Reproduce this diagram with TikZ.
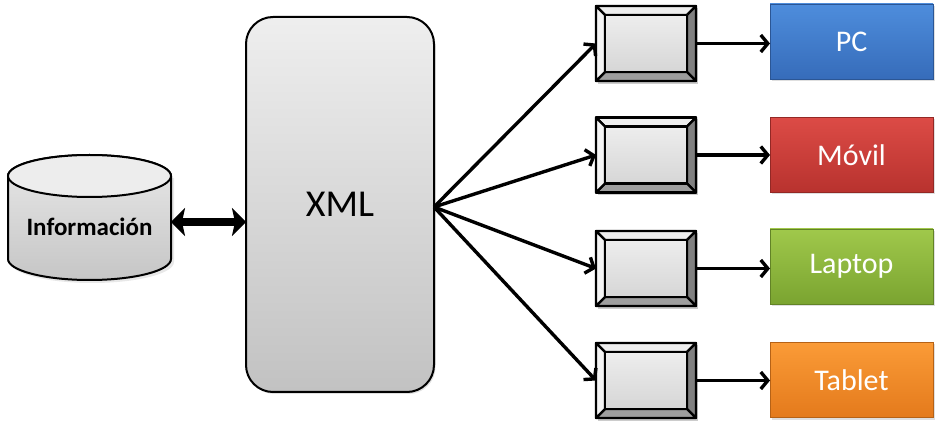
\documentclass[tikz,border=0pt]{standalone}
\usepackage{fontspec}
\setmainfont{Carlito}
\usetikzlibrary{arrows.meta,calc,shadows}
\definecolor{pcA}{RGB}{78,141,220}
\definecolor{pcB}{RGB}{54,108,186}
\definecolor{mvA}{RGB}{220,75,70}
\definecolor{mvB}{RGB}{184,50,46}
\definecolor{lpA}{RGB}{160,200,75}
\definecolor{lpB}{RGB}{122,164,48}
\definecolor{tbA}{RGB}{250,155,55}
\definecolor{tbB}{RGB}{228,122,28}
\definecolor{bevTop}{RGB}{238,238,238}
\definecolor{bevLeft}{RGB}{244,244,244}
\definecolor{bevRight}{RGB}{128,128,128}
\definecolor{bevBot}{RGB}{158,158,158}
\tikzset{
  fanarrow/.style={line width=3.4pt, -{Straight Barb[length=7pt,width=17pt]}},
  bevelbox/.style={minimum width=100pt, minimum height=75pt, inner sep=0pt, outer sep=0pt},
  target/.style n args={2}{minimum width=163pt, minimum height=75pt, inner sep=0pt, outer sep=0pt,
    top color=#1, bottom color=#2, draw=#2!80!black, line width=0.4pt, text=white,
    font=\fontsize{30}{32}\selectfont,
    drop shadow={opacity=0.25, shadow xshift=1.5pt, shadow yshift=-2pt}},
  bevfill/.style={draw=black, line width=2.2pt, line join=round},
}
\begin{document}
\begin{tikzpicture}[x=1pt,y=-1pt]
\useasboundingbox (0,0) rectangle (943,430);

% cylinder "Información"
\fill[gray!35, opacity=0.5] (10,262) -- (10,178) -- (174,178) -- (174,262) arc[start angle=0,end angle=180,x radius=82,y radius=21] -- cycle;
\draw[line width=2pt, top color=gray!18, bottom color=gray!45]
  (8,176) -- (8,259) arc[start angle=180,end angle=0,x radius=81.5,y radius=21]
  -- (171,176) arc[start angle=360,end angle=180,x radius=81.5,y radius=21] -- cycle;
\draw[line width=2pt, fill=gray!14] (89.5,176) ellipse[x radius=81.5, y radius=21];
\node (info) [minimum width=163pt, minimum height=110pt, inner sep=0pt, outer sep=0pt,
  font=\bfseries\fontsize{25}{27}\selectfont] at (89.5,227) {Información};

% XML box
\node (xml) [draw, line width=2pt, rounded corners=27pt, minimum width=188pt, minimum height=375pt,
  inner sep=0pt, outer sep=0pt, top color=gray!13, bottom color=gray!48,
  drop shadow={opacity=0.25, shadow xshift=1.5pt, shadow yshift=-2pt},
  font=\fontsize{38}{40}\selectfont] at (340,204.5) {XML};

% double arrow
\draw[line width=8pt, {Stealth[length=14pt,width=28pt,inset=3pt]}-{Stealth[length=14pt,width=28pt,inset=3pt]}]
  (info.east |- 0,222) -- (xml.west |- 0,222);

\coordinate (fan) at ($(xml.east)+(0,2.5)$);

% beveled boxes
\foreach \n/\y in {1/43.5, 2/155, 3/268.5, 4/380.5}{
  \node (b\n) [bevelbox] at (646,\y) {};
  \path (b\n.north west) coordinate (o1) (b\n.north east) coordinate (o2)
        (b\n.south east) coordinate (o3) (b\n.south west) coordinate (o4);
  \path ($(o1)+(9,9)$) coordinate (i1) ($(o2)+(-9,9)$) coordinate (i2)
        ($(o3)+(-9,-9)$) coordinate (i3) ($(o4)+(9,-9)$) coordinate (i4);
  \fill[black, opacity=0.2] ($(o1)+(2,2)$) rectangle ($(o3)+(2,3)$);
  \filldraw[bevfill, fill=bevTop] (o1) -- (o2) -- (i2) -- (i1) -- cycle;
  \filldraw[bevfill, fill=bevRight] (o2) -- (o3) -- (i3) -- (i2) -- cycle;
  \filldraw[bevfill, fill=bevBot] (o3) -- (o4) -- (i4) -- (i3) -- cycle;
  \filldraw[bevfill, fill=bevLeft] (o4) -- (o1) -- (i1) -- (i4) -- cycle;
  \draw[bevfill, top color=gray!14, bottom color=gray!32] (i1) rectangle (i3);
  \draw[bevfill, fill=none] (o1) rectangle (o3);
}

% target boxes
\node (pc) [target={pcA}{pcB}] at (851.5,41.5) {PC};
\node (movil) [target={mvA}{mvB}] at (851.5,155) {Móvil};
\node (laptop) [target={lpA}{lpB}] at (851.5,266.5) {Laptop};
\node (tablet) [target={tbA}{tbB}] at (851.5,380) {Tablet};

% fan arrows
\foreach \n in {1,2,3,4}{
  \draw[fanarrow] (fan) -- (b\n.west);
}
\draw[fanarrow] (b1.east) -- (pc.west |- b1.east);
\draw[fanarrow] (b2.east) -- (movil.west |- b2.east);
\draw[fanarrow] (b3.east) -- (laptop.west |- b3.east);
\draw[fanarrow] (b4.east) -- (tablet.west |- b4.east);
\end{tikzpicture}
\end{document}
